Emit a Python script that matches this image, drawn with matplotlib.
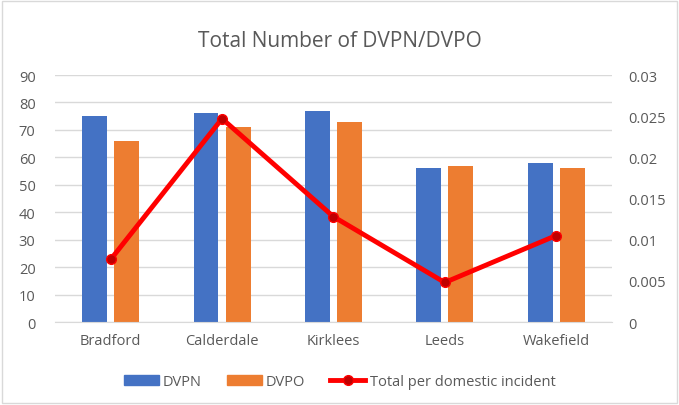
import matplotlib.pyplot as plt
import numpy as np
from matplotlib.patches import Rectangle
from matplotlib.lines import Line2D

plt.rcParams['font.family'] = ['Open Sans', 'DejaVu Sans']

areas = ['Bradford', 'Calderdale', 'Kirklees', 'Leeds', 'Wakefield']
dvpn = [75, 76, 77, 56, 58]
dvpo = [66, 71, 73, 57, 56]
per_incident = [0.0076, 0.0247, 0.0128, 0.0048, 0.0105]

grey = '#595959'
blue = '#4472C4'
orange = '#ED7D31'

fig = plt.figure(figsize=(6.79, 4.06), dpi=100)
fig.patches.append(Rectangle((0.003, 0.005), 0.994, 0.99, transform=fig.transFigure,
                             fill=False, edgecolor='#D9D9D9', linewidth=1))

ax = fig.add_axes([0.081, 0.2044, 0.820, 0.6084])
x = np.arange(len(areas))
w = 0.224
ax.bar(x - 0.144, dvpn, w, color=blue, zorder=2)
ax.bar(x + 0.144, dvpo, w, color=orange, zorder=2)
ax.set_ylim(0, 90)
ax.set_yticks(range(0, 91, 10))
ax.set_xlim(-0.5, 4.5)
ax.set_xticks(x)
ax.set_xticklabels(areas)
ax.grid(axis='y', color='#D9D9D9', linewidth=1, zorder=0)
for s in ax.spines.values():
    s.set_visible(False)
ax.spines['bottom'].set_visible(True)
ax.spines['bottom'].set_color('#D9D9D9')
ax.tick_params(length=0, colors=grey, labelsize=10.5)
ax.tick_params(axis='x', pad=8)
ax.tick_params(axis='y', pad=14)

ax2 = ax.twinx()
ax2.plot(x, per_incident, color='#FF0000', linewidth=3.5, marker='o', markersize=7,
         markerfacecolor='#C00000', markeredgecolor='#FF0000', markeredgewidth=1, zorder=3)
ax2.set_ylim(0, 0.03)
ax2.set_yticks([0, 0.005, 0.01, 0.015, 0.02, 0.025, 0.03])
ax2.set_yticklabels(['0', '0.005', '0.01', '0.015', '0.02', '0.025', '0.03'])
for s in ax2.spines.values():
    s.set_visible(False)
ax2.tick_params(length=0, colors=grey, labelsize=10.5, pad=12)

fig.text(0.5, 0.898, 'Total Number of DVPN/DVPO', ha='center', va='center',
         fontsize=15, color=grey)

handles = [Rectangle((0, 0), 1, 1, color=blue),
           Rectangle((0, 0), 1, 1, color=orange),
           Line2D([], [], color='#FF0000', linewidth=3.5, marker='o', markersize=7,
                  markerfacecolor='#C00000', markeredgecolor='#FF0000')]
fig.legend(handles, ['DVPN', 'DVPO', 'Total per domestic incident'], loc='center',
           bbox_to_anchor=(0.5, 0.058), ncol=3, frameon=False, fontsize=10.5,
           labelcolor=grey, handlelength=2.4, handleheight=0.7, columnspacing=1.7,
           handletextpad=0.3)

fig.savefig('out.png', dpi=100)
